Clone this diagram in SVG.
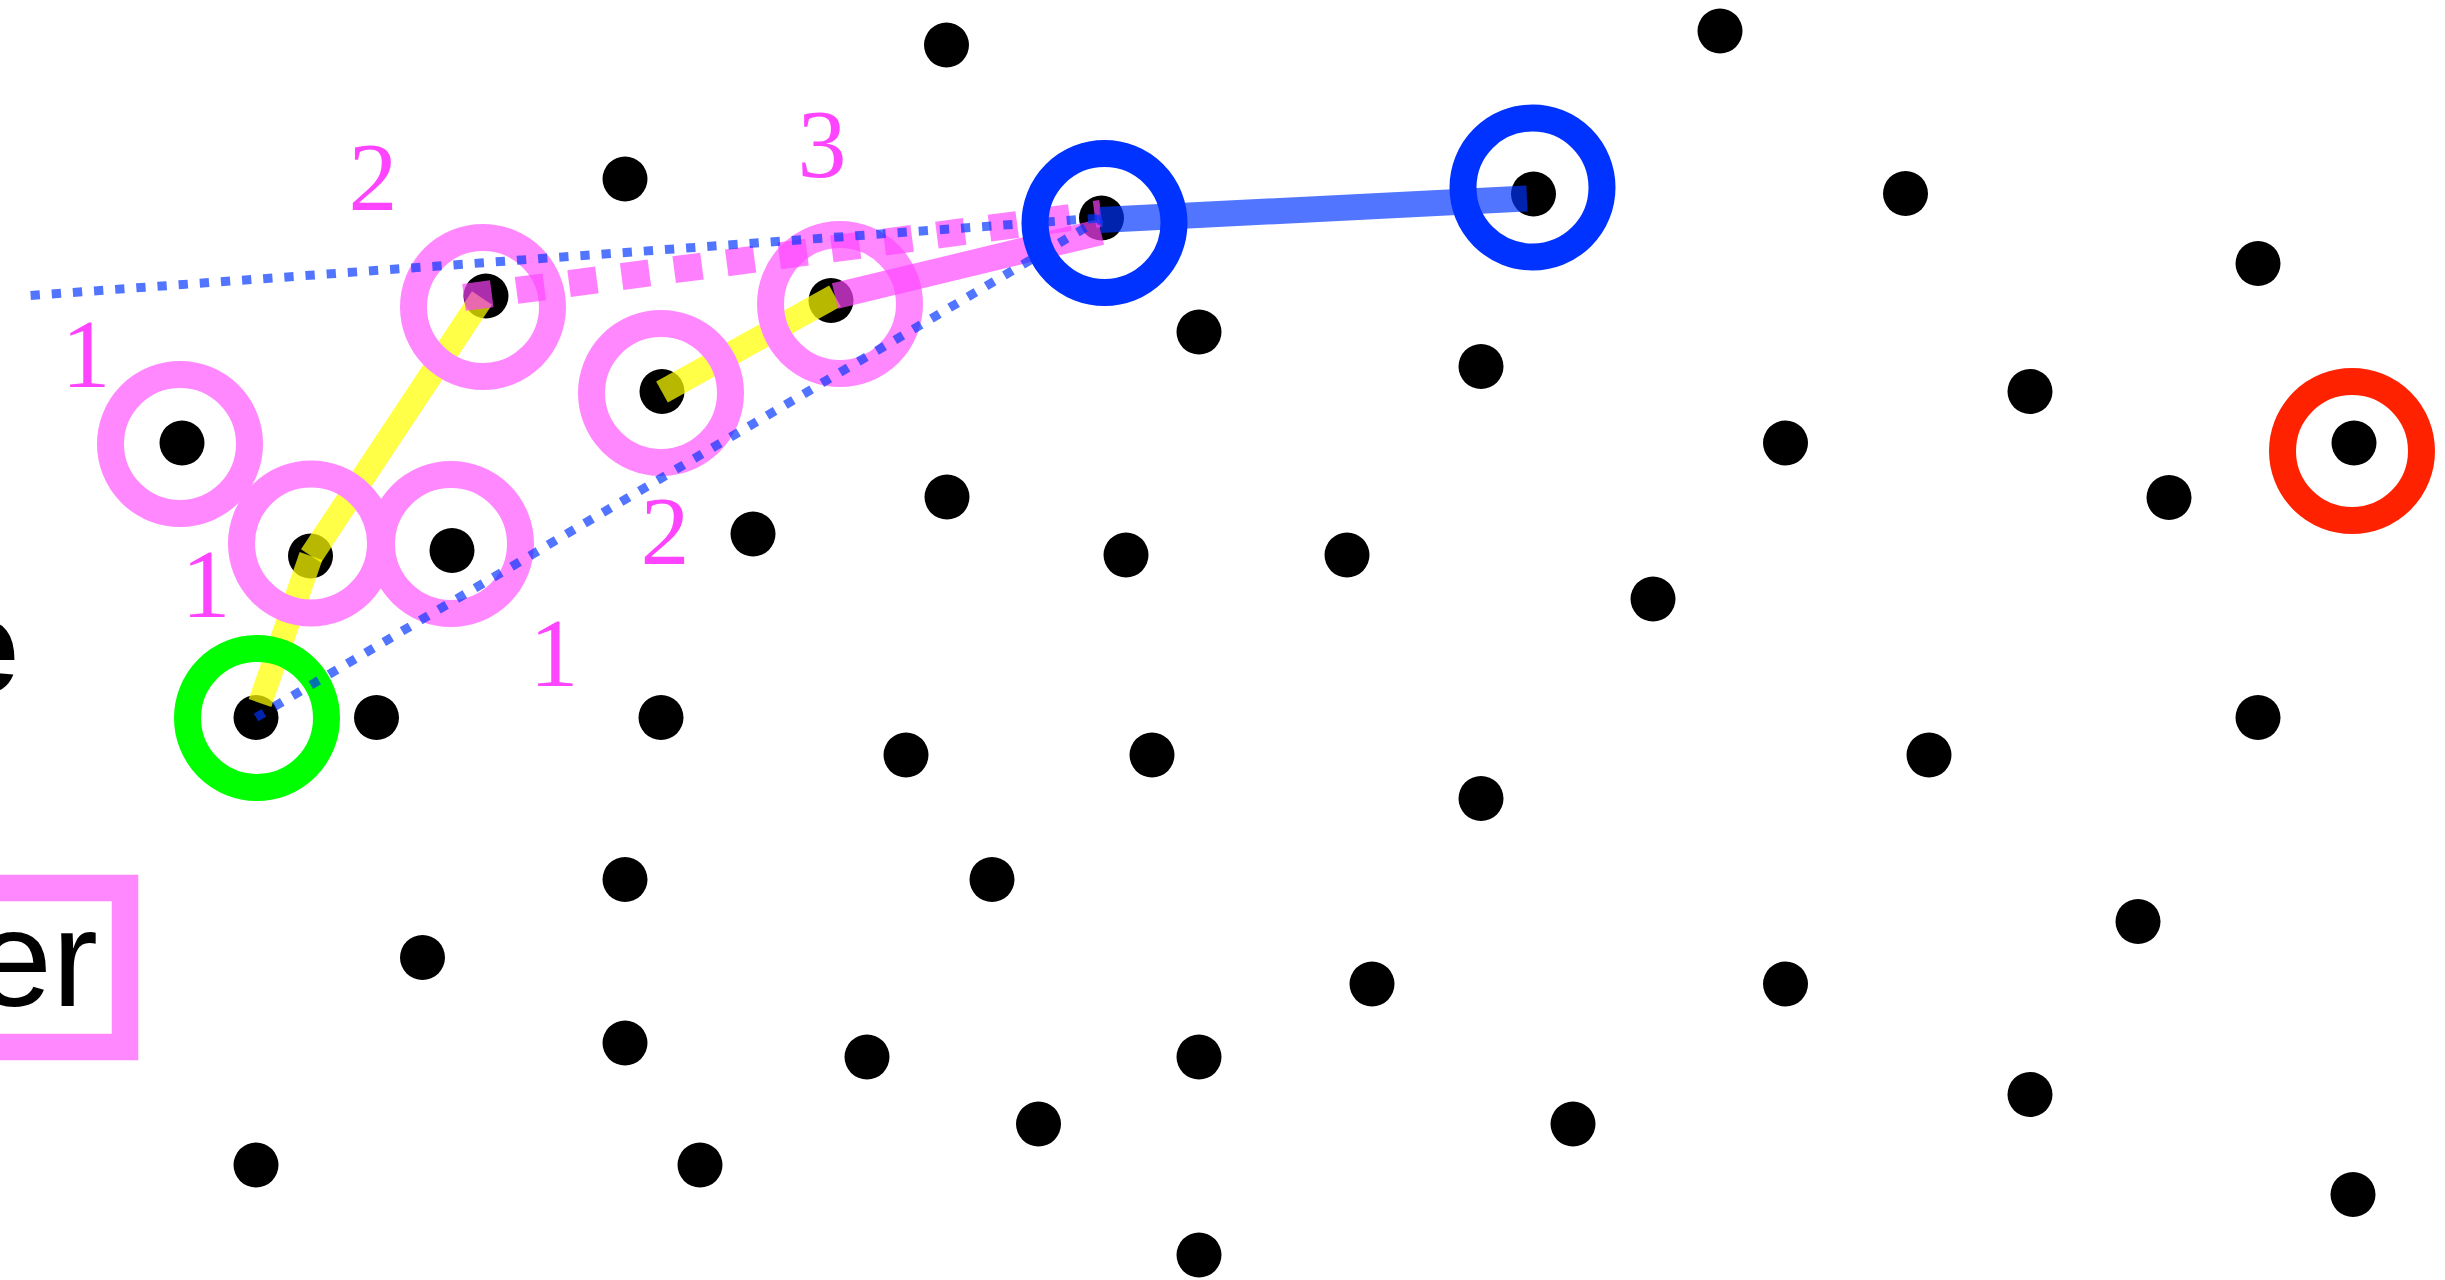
<svg xmlns="http://www.w3.org/2000/svg" width="2445" height="1280" viewBox="0 0 2445 1280">
<style>
.dot{fill:#000}
.ring{fill:none;stroke-width:27}
.pk{stroke:#ff88ff}
.gr{stroke:#00ff00}
.bl{stroke:#0033ff}
.rd{stroke:#ff2200}
.yl{stroke:#ffff00;stroke-opacity:0.72;stroke-width:24;fill:none}
.ps{stroke:#ff44ff;stroke-opacity:0.68;stroke-width:26;fill:none}
.pd{stroke:#ff44ff;stroke-opacity:0.68;stroke-width:27;stroke-dasharray:28 25;fill:none}
.bd{stroke:#0033ff;stroke-opacity:0.68;stroke-width:9;stroke-dasharray:9.3 11.9;fill:none}
.bs{stroke:#0033ff;stroke-opacity:0.68;stroke-width:26;fill:none}
.lab{font-family:"Liberation Serif","DejaVu Serif",serif;font-size:98px;fill:#ff44ff;text-anchor:middle}
</style>
<rect width="2445" height="1280" fill="#fff"/>
<g id="legend">
<text x="19" y="693" font-family="Liberation Sans, Arial, sans-serif" font-weight="bold" font-size="135" text-anchor="end" fill="#000">e</text>
<rect x="-200" y="888" width="325" height="159" fill="none" stroke="#ff88ff" stroke-width="26.5"/>
<text x="98" y="1006" font-family="Liberation Sans, Arial, sans-serif" font-size="138" text-anchor="end" fill="#000">er</text>
</g>
<g id="nodes">
<g id="n1"><circle class="dot" cx="946.5" cy="45" r="22.5"/></g>
<g id="n2"><circle class="dot" cx="1720" cy="31" r="22.5"/></g>
<g id="n3"><circle class="dot" cx="625" cy="179" r="22.5"/></g>
<g id="n4"><circle class="dot" cx="1905.5" cy="193.5" r="22.5"/></g>
<g id="n5"><circle class="dot" cx="2258" cy="263.5" r="22.5"/></g>
<g id="n6"><circle class="dot" cx="486" cy="296" r="22.5"/></g>
<g id="n7"><circle class="dot" cx="831" cy="300.5" r="22.5"/></g>
<g id="n8"><circle class="dot" cx="1101.5" cy="218" r="22.5"/></g>
<g id="n9"><circle class="dot" cx="1533.5" cy="194" r="22.5"/></g>
<g id="n10"><circle class="dot" cx="1199" cy="332" r="22.5"/></g>
<g id="n11"><circle class="dot" cx="1481" cy="366.5" r="22.5"/></g>
<g id="n12"><circle class="dot" cx="182" cy="443" r="22.5"/></g>
<g id="n13"><circle class="dot" cx="662" cy="391.5" r="22.5"/></g>
<g id="n14"><circle class="dot" cx="1785.5" cy="443" r="22.5"/></g>
<g id="n15"><circle class="dot" cx="2030" cy="391.5" r="22.5"/></g>
<g id="n16"><circle class="dot" cx="2354" cy="443" r="22.5"/></g>
<g id="n17"><circle class="dot" cx="2169" cy="497.5" r="22.5"/></g>
<g id="n18"><circle class="dot" cx="947" cy="497" r="22.5"/></g>
<g id="n19"><circle class="dot" cx="310.5" cy="556" r="22.5"/></g>
<g id="n20"><circle class="dot" cx="452" cy="550.5" r="22.5"/></g>
<g id="n21"><circle class="dot" cx="753" cy="534" r="22.5"/></g>
<g id="n22"><circle class="dot" cx="1126" cy="555" r="22.5"/></g>
<g id="n23"><circle class="dot" cx="1347" cy="555" r="22.5"/></g>
<g id="n24"><circle class="dot" cx="1653" cy="599" r="22.5"/></g>
<g id="n25"><circle class="dot" cx="256" cy="717.5" r="22.5"/></g>
<g id="n26"><circle class="dot" cx="376.5" cy="717.5" r="22.5"/></g>
<g id="n27"><circle class="dot" cx="661" cy="717.5" r="22.5"/></g>
<g id="n28"><circle class="dot" cx="906" cy="755" r="22.5"/></g>
<g id="n29"><circle class="dot" cx="1152" cy="755" r="22.5"/></g>
<g id="n30"><circle class="dot" cx="1481" cy="798.5" r="22.5"/></g>
<g id="n31"><circle class="dot" cx="1929" cy="755" r="22.5"/></g>
<g id="n32"><circle class="dot" cx="2258" cy="717.5" r="22.5"/></g>
<g id="n33"><circle class="dot" cx="625" cy="879.5" r="22.5"/></g>
<g id="n34"><circle class="dot" cx="992" cy="879.5" r="22.5"/></g>
<g id="n35"><circle class="dot" cx="422.5" cy="957.5" r="22.5"/></g>
<g id="n36"><circle class="dot" cx="2138" cy="921.5" r="22.5"/></g>
<g id="n37"><circle class="dot" cx="1372" cy="984" r="22.5"/></g>
<g id="n38"><circle class="dot" cx="1785.5" cy="984" r="22.5"/></g>
<g id="n39"><circle class="dot" cx="625" cy="1043" r="22.5"/></g>
<g id="n40"><circle class="dot" cx="867" cy="1057" r="22.5"/></g>
<g id="n41"><circle class="dot" cx="1199" cy="1057" r="22.5"/></g>
<g id="n42"><circle class="dot" cx="1038.5" cy="1124" r="22.5"/></g>
<g id="n43"><circle class="dot" cx="1573" cy="1124" r="22.5"/></g>
<g id="n44"><circle class="dot" cx="2030" cy="1094.5" r="22.5"/></g>
<g id="n45"><circle class="dot" cx="256" cy="1165" r="22.5"/></g>
<g id="n46"><circle class="dot" cx="700" cy="1165" r="22.5"/></g>
<g id="n47"><circle class="dot" cx="2353" cy="1194.5" r="22.5"/></g>
<g id="n48"><circle class="dot" cx="1199" cy="1255" r="22.5"/></g>
</g>
<g id="connectors-lower">
<line class="yl" x1="260" y1="703" x2="311" y2="556"/>
<line class="yl" x1="311" y1="556" x2="482" y2="298"/>
<line class="yl" x1="662" y1="392" x2="835" y2="296"/>
</g>
<g id="rings">
<circle id="ring-n6" class="ring pk" cx="483" cy="307" r="69.5"/>
<circle id="ring-n7" class="ring pk" cx="840" cy="304" r="69.5"/>
<circle id="ring-n12" class="ring pk" cx="180" cy="444" r="69.5"/>
<circle id="ring-n13" class="ring pk" cx="661" cy="393" r="69.5"/>
<circle id="ring-n19" class="ring pk" cx="311" cy="543.5" r="69.5"/>
<circle id="ring-n20" class="ring pk" cx="451" cy="544" r="69.5"/>
<circle id="ring-n25" class="ring gr" cx="257" cy="718" r="69.5"/>
<circle id="ring-n16" class="ring rd" cx="2352" cy="451" r="69.5"/>
</g>
<g id="connectors">
<line class="pd" x1="464" y1="297.4" x2="1101" y2="213.5"/>
<line class="ps" x1="835" y1="296" x2="1101" y2="232"/>
<line class="bd" x1="30.6" y1="295.5" x2="1101.5" y2="218"/>
<line class="bd" x1="256" y1="717.5" x2="1101.5" y2="218"/>
<line class="bs" x1="1100" y1="220" x2="1527" y2="198.5"/>
</g>
<g id="rings-top">
<circle id="ring-n8" class="ring bl" cx="1104.5" cy="223" r="69.5"/>
<circle id="ring-n9" class="ring bl" cx="1532.5" cy="187.5" r="69.5"/>
</g>
<g id="labels">
<text class="lab" x="86" y="387">1</text>
<text class="lab" x="373" y="210">2</text>
<text class="lab" x="822" y="177">3</text>
<text class="lab" x="206" y="617">1</text>
<text class="lab" x="554" y="686">1</text>
<text class="lab" x="665" y="564">2</text>
</g>
</svg>
